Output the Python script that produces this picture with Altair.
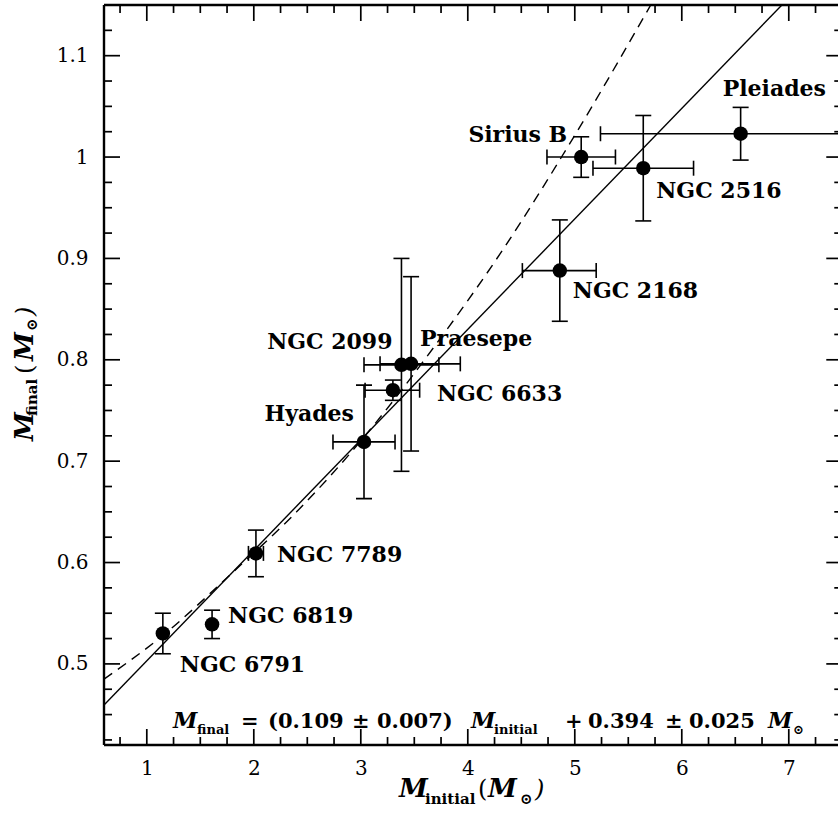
import altair as alt
import pandas as pd

# White dwarf initial-final mass relation: cluster measurements
clusters = ["NGC 6791", "NGC 6819", "NGC 7789", "Hyades", "NGC 6633",
            "NGC 2099", "Praesepe", "NGC 2168", "Sirius B", "NGC 2516", "Pleiades"]
m_initial = [1.15, 1.61, 2.02, 3.03, 3.30, 3.38, 3.47, 4.86, 5.06, 5.64, 6.55]
m_initial_lo = [1.15, 1.61, 1.95, 2.74, 3.04, 3.03, 3.18, 4.51, 4.74, 5.17, 5.24]
m_initial_hi = [1.15, 1.61, 2.09, 3.32, 3.55, 3.73, 3.93, 5.20, 5.38, 6.11, 7.85]
m_final = [0.530, 0.539, 0.609, 0.719, 0.770, 0.795, 0.796, 0.888, 1.000, 0.989, 1.023]
m_final_err = [0.020, 0.014, 0.023, 0.056, 0.010, 0.105, 0.086, 0.050, 0.020, 0.052, 0.026]

# Linear fit quoted in the equation
fit_slope = 0.109
fit_intercept = 0.394

# Comparison relation (dashed curve)
ref_initial = [0.6, 1.15, 1.8, 2.4, 3.0, 3.68, 4.33, 4.98, 5.71]
ref_final = [0.485, 0.528, 0.590, 0.650, 0.720, 0.812, 0.909, 1.018, 1.150]

# Axis ticks
x_major = [1, 2, 3, 4, 5, 6, 7]
x_minor = [0.75, 1.25, 1.5, 1.75, 2.25, 2.5, 2.75, 3.25, 3.5, 3.75, 4.25, 4.5, 4.75,
           5.25, 5.5, 5.75, 6.25, 6.5, 6.75, 7.25]
y_major = [0.5, 0.6, 0.7, 0.8, 0.9, 1.0, 1.1]
y_minor = [0.425, 0.45, 0.475, 0.525, 0.55, 0.575, 0.625, 0.65, 0.675, 0.725, 0.75,
           0.775, 0.825, 0.85, 0.875, 0.925, 0.95, 0.975, 1.025, 1.05, 1.075, 1.125]

X_MIN, X_MAX, X_FRAME = 0.6, 7.46, 7.5
Y_MIN, Y_MAX = 0.42, 1.15
W, H = 734, 740
PAD_LEFT, PAD_TOP = 104, 5

SERIF = "DejaVu Serif"
INK = "black"

df = pd.DataFrame({
    "cluster": clusters, "mi": m_initial, "mi_lo": m_initial_lo,
    "mi_hi": m_initial_hi, "mf": m_final, "err": m_final_err,
})
df["mf_lo"] = df["mf"] - df["err"]
df["mf_hi"] = df["mf"] + df["err"]
xerr = df[df["mi_hi"] > df["mi_lo"]]

fit_df = pd.DataFrame({"x": [X_MIN, X_FRAME]})
fit_df["y"] = fit_slope * fit_df["x"] + fit_intercept
ref_df = pd.DataFrame({"x": ref_initial, "y": ref_final})

xscale = alt.Scale(domain=[X_MIN, X_MAX], nice=False, zero=False)
yscale = alt.Scale(domain=[Y_MIN, Y_MAX], nice=False, zero=False)
xaxis = alt.Axis(values=x_major, format="d", title=None, ticks=False, tickSize=0,
                 domain=False, grid=False, labelFont=SERIF, labelFontSize=20,
                 labelColor=INK, labelPadding=13)
yaxis = alt.Axis(values=y_major, format="~g", title=None, ticks=False, tickSize=0,
                 domain=False, grid=False, labelFont=SERIF, labelFontSize=20,
                 labelColor=INK, labelPadding=16)


def X(field):
    return alt.X(field, type="quantitative", scale=xscale, axis=xaxis)


def Y(field):
    return alt.Y(field, type="quantitative", scale=yscale, axis=yaxis)


def XD(v):
    return alt.XDatum(v, type="quantitative", scale=xscale, axis=xaxis)


def YD(v):
    return alt.YDatum(v, type="quantitative", scale=yscale, axis=yaxis)


layers = []

# Relations
layers.append(alt.Chart(ref_df).mark_line(color=INK, strokeWidth=1.4, strokeDash=[10, 7],
                                          interpolate="monotone", clip=True)
              .encode(x=X("x"), y=Y("y")))
layers.append(alt.Chart(fit_df).mark_line(color=INK, strokeWidth=1.4, clip=True)
              .encode(x=X("x"), y=Y("y")))

# Error bars with caps
layers.append(alt.Chart(df).mark_rule(color=INK, strokeWidth=1.6)
              .encode(x=X("mi"), y=Y("mf_lo"), y2="mf_hi"))
for f in ["mf_lo", "mf_hi"]:
    layers.append(alt.Chart(df).mark_tick(color=INK, orient="horizontal", size=16,
                                          thickness=1.6, opacity=1)
                  .encode(x=X("mi"), y=Y(f)))
layers.append(alt.Chart(xerr).mark_rule(color=INK, strokeWidth=1.6, clip=True)
              .encode(x=X("mi_lo"), x2="mi_hi", y=Y("mf")))
for f in ["mi_lo", "mi_hi"]:
    layers.append(alt.Chart(xerr).mark_tick(color=INK, orient="vertical", size=15,
                                            thickness=1.6, opacity=1, clip=True)
                  .encode(x=X(f), y=Y("mf")))

# Data points
layers.append(alt.Chart(df).mark_circle(color=INK, size=210, opacity=1)
              .encode(x=X("mi"), y=Y("mf")))

# Cluster names next to their points: (align, dx, dy)
label_place = {
    "NGC 6791": ("left", 17, 32), "NGC 6819": ("left", 16, -8),
    "NGC 7789": ("left", 21, 2), "Hyades": ("right", -10, -28),
    "NGC 6633": ("left", 44, 4), "NGC 2099": ("right", -9, -23),
    "Praesepe": ("left", 9, -25), "NGC 2168": ("left", 13, 20),
    "Sirius B": ("right", -14, -22), "NGC 2516": ("left", 13, 23),
    "Pleiades": ("left", -18, -45),
}
for name, (align, dx, dy) in label_place.items():
    layers.append(alt.Chart(df[df["cluster"] == name])
                  .mark_text(font=SERIF, fontWeight="bold", fontSize=22, color=INK,
                             align=align, baseline="middle", dx=dx, dy=dy)
                  .encode(x=X("mi"), y=Y("mf"), text="cluster"))


# Inward ticks on all four sides
def xticks(values, length):
    d = pd.DataFrame({"v": values})
    bottom = alt.Chart(d).mark_rule(color=INK, strokeWidth=1.7, y2Offset=-length).encode(
        x=X("v"), y=YD(Y_MIN), y2=alt.Y2Datum(Y_MIN))
    top = alt.Chart(d).mark_rule(color=INK, strokeWidth=1.7, y2Offset=length).encode(
        x=X("v"), y=YD(Y_MAX), y2=alt.Y2Datum(Y_MAX))
    return [bottom, top]


def yticks(values, length):
    d = pd.DataFrame({"v": values})
    left = alt.Chart(d).mark_rule(color=INK, strokeWidth=1.7, x2Offset=length).encode(
        y=Y("v"), x=XD(X_MIN), x2=alt.X2Datum(X_MIN))
    right = alt.Chart(d).mark_rule(color=INK, strokeWidth=1.7, x2Offset=-length).encode(
        y=Y("v"), x=XD(X_FRAME), x2=alt.X2Datum(X_FRAME))
    return [left, right]


layers += xticks(x_major, 16) + xticks(x_minor, 8) + yticks(y_major, 16) + yticks(y_minor, 8)

# Plot frame
frame = pd.DataFrame({"a": [0]})
layers.append(alt.Chart(frame).mark_rule(color=INK, strokeWidth=2.4).encode(
    x=XD(X_MIN), y=YD(Y_MIN), y2=alt.Y2Datum(Y_MAX)))
layers.append(alt.Chart(frame).mark_rule(color=INK, strokeWidth=2.4).encode(
    x=XD(X_FRAME), y=YD(Y_MIN), y2=alt.Y2Datum(Y_MAX)))
layers.append(alt.Chart(frame).mark_rule(color=INK, strokeWidth=2.4).encode(
    y=YD(Y_MIN), x=XD(X_MIN), x2=alt.X2Datum(X_FRAME)))
layers.append(alt.Chart(frame).mark_rule(color=INK, strokeWidth=2.4).encode(
    y=YD(Y_MAX), x=XD(X_MIN), x2=alt.X2Datum(X_FRAME)))

# Typeset text pieces, page coordinates: (text, x, y, size, style, weight)
pieces = [
    # fit equation
    ("M", 173, 728, 22, "italic", "bold"),
    ("final", 197, 734, 13, "normal", "bold"),
    ("=", 241, 728, 21, "normal", "bold"),
    ("(0.109", 268, 728, 21, "normal", "bold"),
    ("±", 352, 728, 21, "normal", "bold"),
    ("0.007)", 377, 728, 21, "normal", "bold"),
    ("M", 471, 728, 22, "italic", "bold"),
    ("initial", 494, 734, 13, "normal", "bold"),
    ("+", 565, 728, 21, "normal", "bold"),
    ("0.394", 588, 728, 21, "normal", "bold"),
    ("±", 665, 728, 21, "normal", "bold"),
    ("0.025", 689, 728, 21, "normal", "bold"),
    ("M", 768, 728, 22, "italic", "bold"),
    ("⊙", 793, 734, 13, "normal", "bold"),
    # x title
    ("M", 399, 797, 26, "italic", "bold"),
    ("initial", 425, 804, 15, "normal", "bold"),
    ("(", 478, 797, 24, "normal", "normal"),
    ("M", 488, 797, 26, "italic", "bold"),
    ("⊙", 520, 804, 15, "normal", "bold"),
    (")", 535, 797, 24, "italic", "normal"),
]
for text, px, py, size, style, weight in pieces:
    layers.append(alt.Chart(frame).mark_text(
        text=text, font=SERIF, fontSize=size, fontStyle=style, fontWeight=weight,
        color=INK, align="left", baseline="alphabetic")
        .encode(x=alt.value(px - PAD_LEFT), y=alt.value(py - PAD_TOP)))

# Rotated y title, reading upwards, page coordinates
ytitle = [
    ("M", 33, 441, 26, "italic", "bold"),
    ("final", 37, 416, 15, "normal", "bold"),
    ("(", 33, 374, 24, "normal", "normal"),
    ("M", 33, 361, 26, "italic", "bold"),
    ("⊙", 37, 331, 15, "normal", "bold"),
    (")", 33, 316, 24, "italic", "normal"),
]
for text, px, py, size, style, weight in ytitle:
    layers.append(alt.Chart(frame).mark_text(
        text=text, font=SERIF, fontSize=size, fontStyle=style, fontWeight=weight,
        color=INK, align="left", baseline="alphabetic", angle=270)
        .encode(x=alt.value(px - PAD_LEFT), y=alt.value(py - PAD_TOP)))

chart = alt.layer(*layers).properties(
    width=W, height=H,
    autosize=alt.AutoSizeParams(type="none"),
    padding={"left": PAD_LEFT, "top": PAD_TOP, "right": 0, "bottom": 76},
    background="white",
).configure_view(stroke=None)

chart.save("out.html", embed_options={"renderer": "svg", "actions": False})
